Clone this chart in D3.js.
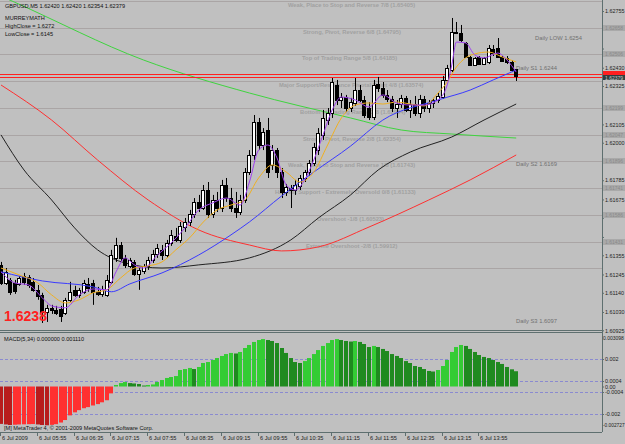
<!DOCTYPE html>
<html>
<head>
<meta charset="utf-8">
<script src="https://cdn.jsdelivr.net/npm/d3@7"></script>
<style>
  body { margin: 0; background: #c0c0c0; }
  svg { display: block; font-family: "Liberation Sans", Arial, sans-serif; }
</style>
</head>
<body>
<svg id="chart" width="625" height="444"></svg>
<script>
// GBPUSD M5 candles, bar 0 = 05:15
const opens = [1.61300,1.61197,1.61214,1.61197,1.61191,1.61237,1.61231,1.61203,1.61157,1.61128,1.61030,1.61054,1.61042,1.61048,1.61025,1.61100,1.61157,1.61128,1.61146,1.61191,1.61197,1.61146,1.61134,1.61128,1.61203,1.61340,1.61414,1.61340,1.61294,1.61317,1.61248,1.61265,1.61294,1.61328,1.61363,1.61386,1.61357,1.61426,1.61466,1.61443,1.61517,1.61546,1.61592,1.61661,1.61626,1.61729,1.61592,1.61672,1.61626,1.61758,1.61683,1.61626,1.61603,1.61672,1.61832,1.61930,1.62119,1.61987,1.62073,1.61873,1.61958,1.61832,1.61718,1.61741,1.61729,1.61752,1.61798,1.61832,1.61884,1.61958,1.62045,1.62130,1.62171,1.62331,1.62245,1.62262,1.62199,1.62228,1.62302,1.62245,1.62199,1.62148,1.62337,1.62314,1.62274,1.62251,1.62199,1.62222,1.62257,1.62188,1.62222,1.62171,1.62251,1.62199,1.62228,1.62245,1.62262,1.62360,1.62417,1.62635,1.62629,1.62572,1.62491,1.62446,1.62491,1.62451,1.62463,1.62537,1.62543,1.62491,1.62486,1.62463,1.62420];
const highs = [1.61317,1.61282,1.61225,1.61214,1.61237,1.61254,1.61242,1.61225,1.61185,1.61140,1.61071,1.61071,1.61065,1.61065,1.61111,1.61203,1.61180,1.61168,1.61214,1.61225,1.61214,1.61174,1.61180,1.61242,1.61386,1.61455,1.61431,1.61357,1.61340,1.61328,1.61288,1.61305,1.61346,1.61386,1.61420,1.61414,1.61443,1.61500,1.61512,1.61546,1.61569,1.61615,1.61683,1.61701,1.61758,1.61775,1.61701,1.61718,1.61787,1.61798,1.61741,1.61718,1.61701,1.61855,1.61958,1.62159,1.62142,1.62084,1.62142,1.61987,1.61970,1.61855,1.61764,1.61758,1.61787,1.61815,1.61844,1.61901,1.61999,1.62084,1.62188,1.62199,1.62371,1.62360,1.62285,1.62274,1.62257,1.62371,1.62331,1.62268,1.62233,1.62360,1.62377,1.62348,1.62302,1.62268,1.62245,1.62274,1.62268,1.62245,1.62268,1.62274,1.62268,1.62245,1.62257,1.62285,1.62383,1.62446,1.62715,1.62692,1.62675,1.62577,1.62497,1.62491,1.62497,1.62491,1.62560,1.62560,1.62600,1.62497,1.62497,1.62474,1.62420];
const lows = [1.61185,1.61185,1.61128,1.61134,1.61180,1.61185,1.61168,1.61146,1.61100,1.60967,1.60973,1.61019,1.61013,1.60973,1.61013,1.61088,1.61117,1.61111,1.61134,1.61146,1.61071,1.61122,1.61117,1.61117,1.61191,1.61317,1.61317,1.61282,1.61282,1.61237,1.61157,1.61248,1.61271,1.61311,1.61340,1.61328,1.61340,1.61409,1.61431,1.61426,1.61489,1.61523,1.61569,1.61603,1.61615,1.61569,1.61569,1.61603,1.61603,1.61661,1.61603,1.61569,1.61586,1.61655,1.61815,1.61901,1.61958,1.61958,1.61798,1.61844,1.61798,1.61683,1.61695,1.61626,1.61701,1.61729,1.61775,1.61810,1.61867,1.61930,1.62016,1.62102,1.62142,1.62216,1.62199,1.62176,1.62176,1.62211,1.62233,1.62142,1.62130,1.62130,1.62291,1.62257,1.62233,1.62176,1.62142,1.62199,1.62176,1.62142,1.62153,1.62142,1.62176,1.62171,1.62199,1.62228,1.62251,1.62348,1.62405,1.62623,1.62577,1.62486,1.62440,1.62440,1.62446,1.62446,1.62451,1.62497,1.62486,1.62463,1.62451,1.62405,1.62354];
const closes = [1.61197,1.61260,1.61146,1.61151,1.61225,1.61203,1.61185,1.61157,1.61122,1.61030,1.61054,1.61042,1.61025,1.61007,1.61100,1.61146,1.61128,1.61157,1.61197,1.61168,1.61146,1.61134,1.61163,1.61214,1.61357,1.61414,1.61340,1.61300,1.61328,1.61248,1.61271,1.61294,1.61328,1.61363,1.61398,1.61357,1.61426,1.61472,1.61443,1.61523,1.61546,1.61592,1.61661,1.61626,1.61729,1.61592,1.61672,1.61626,1.61758,1.61683,1.61626,1.61603,1.61672,1.61832,1.61930,1.62119,1.61987,1.62062,1.61832,1.61958,1.61832,1.61718,1.61746,1.61729,1.61758,1.61798,1.61832,1.61884,1.61976,1.62056,1.62142,1.62171,1.62348,1.62245,1.62262,1.62199,1.62233,1.62302,1.62245,1.62159,1.62148,1.62331,1.62314,1.62274,1.62251,1.62199,1.62222,1.62257,1.62188,1.62222,1.62171,1.62251,1.62199,1.62228,1.62245,1.62268,1.62360,1.62428,1.62635,1.62629,1.62589,1.62491,1.62446,1.62486,1.62451,1.62486,1.62543,1.62514,1.62491,1.62468,1.62463,1.62417,1.62379];

// moving averages: [bar, price]
const maGreen = [[0,1.62840],[3,1.62805],[31,1.62474],[54,1.62285],[76,1.62142],[87,1.62073],[98,1.62050],[112,1.62027]];
const maBlack = [[0,1.62045],[5,1.61844],[11,1.61672],[16,1.61512],[21,1.61386],[27,1.61311],[35,1.61282],[43,1.61300],[54,1.61340],[63,1.61443],[69,1.61569],[76,1.61701],[82,1.61844],[89,1.61947],[98,1.62033],[105,1.62130],[112,1.62222]];
const maRed = [[0,1.62331],[11,1.62130],[21,1.61901],[32,1.61672],[43,1.61500],[54,1.61414],[61,1.61380],[69,1.61403],[80,1.61517],[93,1.61672],[102,1.61787],[112,1.61930]];
const maBlue = [[0,1.61260],[9,1.61208],[20,1.61174],[24,1.61146],[28,1.61191],[35,1.61254],[43,1.61357],[50,1.61472],[54,1.61546],[61,1.61695],[68,1.61832],[76,1.61981],[83,1.62130],[95,1.62245],[102,1.62302],[107,1.62360],[112,1.62417]];
const maPurple = [[0,1.61260],[3,1.61197],[6,1.61185],[9,1.61111],[11,1.61065],[14,1.61054],[17,1.61128],[20,1.61162],[23,1.61157],[25,1.61260],[27,1.61340],[29,1.61300],[31,1.61282],[34,1.61357],[37,1.61426],[40,1.61512],[43,1.61615],[46,1.61655],[49,1.61683],[52,1.61643],[54,1.61775],[56,1.61958],[58,1.61987],[60,1.61913],[62,1.61758],[64,1.61729],[66,1.61787],[68,1.61901],[70,1.62045],[72,1.62188],[74,1.62262],[77,1.62245],[80,1.62205],[83,1.62274],[86,1.62228],[89,1.62216],[92,1.62216],[95,1.62245],[97,1.62331],[98,1.62446],[99,1.62577],[101,1.62572],[103,1.62503],[105,1.62486],[108,1.62514],[110,1.62474],[112,1.62405]];
const maOrange = [[0,1.61282],[4,1.61242],[8,1.61197],[11,1.61128],[14,1.61082],[17,1.61100],[20,1.61140],[23,1.61157],[26,1.61225],[29,1.61282],[32,1.61294],[35,1.61317],[38,1.61386],[41,1.61455],[44,1.61546],[47,1.61615],[50,1.61643],[53,1.61672],[56,1.61798],[59,1.61873],[62,1.61832],[65,1.61775],[68,1.61832],[71,1.61987],[74,1.62142],[77,1.62216],[80,1.62228],[83,1.62222],[86,1.62233],[89,1.62222],[92,1.62211],[95,1.62285],[97,1.62348],[99,1.62434],[101,1.62486],[103,1.62509],[106,1.62520],[109,1.62491],[112,1.62463]];

// MACD(5,34) histogram, one value per bar
const macd = [-0.00272,-0.00276,-0.00280,-0.00278,-0.00276,-0.00275,-0.00274,-0.00273,-0.00276,-0.00280,-0.00282,-0.00279,-0.00274,-0.00262,-0.00244,-0.00210,-0.00188,-0.00172,-0.00158,-0.00150,-0.00138,-0.00128,-0.00115,-0.00100,-0.00050,0.00011,0.00025,0.00033,0.00025,0.00022,0.00018,0.00007,0.00011,0.00015,0.00033,0.00047,0.00062,0.00069,0.00076,0.00120,0.00127,0.00135,0.00127,0.00142,0.00171,0.00178,0.00193,0.00207,0.00222,0.00236,0.00244,0.00240,0.00251,0.00280,0.00302,0.00324,0.00338,0.00345,0.00338,0.00331,0.00316,0.00280,0.00244,0.00207,0.00178,0.00171,0.00185,0.00207,0.00236,0.00265,0.00295,0.00316,0.00338,0.00345,0.00338,0.00331,0.00327,0.00331,0.00324,0.00309,0.00287,0.00295,0.00287,0.00273,0.00258,0.00236,0.00222,0.00207,0.00185,0.00171,0.00149,0.00142,0.00127,0.00113,0.00109,0.00120,0.00149,0.00193,0.00251,0.00287,0.00302,0.00295,0.00273,0.00251,0.00229,0.00215,0.00207,0.00193,0.00178,0.00164,0.00142,0.00125,0.00111];

// Murrey math levels and their captions
const murreyLevels = [1.62812,1.62658,1.62506,1.62354,1.62199,1.62047,1.61896,1.61741,1.61586,1.61431,1.61282];
const murreyNames = ["Weak, Place to Stop and Reverse  7/8  (1.65405)","Strong, Pivot, Reverse  6/8  (1.64795)","Top of Trading Range  5/8  (1.64185)","Major Support/Resistance Pivotal Point  4/8  (1.63574)","Bottom of Trading Range  3/8  (1.62964)","Strong, Pivot, Reverse  2/8  (1.62354)","Weak, Place to Stop and Reverse  1/8  (1.61743)","Hardest Support - Extremely Oversold  0/8  (1.61133)","Overshoot  -1/8  (1.60523)","Extreme Overshoot  -2/8  (1.59912)",""];
const murreyLabelX = [288,303,302,279,300,303,288,275,317,306,0];
// levels whose price box shows on the axis
const boxLevels = [1.62658,1.62506,1.62199,1.62047,1.61896,1.61741,1.61586,1.61431];

const dailyNames = ["Daily LOW 1.6254","Daily S1 1.6244","Daily S2 1.6169","Daily S3 1.6097"];
const dailyPrices = [1.62600,1.62430,1.61880,1.60980];
const dailyX = [535,516,516,516];

const priceTicks = [1.62755,1.62650,1.62540,1.62430,1.62325,1.62215,1.62105,1.62000,1.61890,1.61785,1.61675,1.61570,1.61460,1.61355,1.61245,1.61140,1.61030,1.60925];
const macdTicks = [0.002,0.0004,0,-0.0004,-0.002];
const macdTickLabels = ["0.002","0.0004","0.00","-0.0004","-0.002"];
const timeBars = [0,8,16,24,32,40,48,56,64,72,80,88,96,104];
const timeLabels = ["6 Jul 2009","6 Jul 05:55","6 Jul 06:35","6 Jul 07:15","6 Jul 07:55","6 Jul 08:35","6 Jul 09:15","6 Jul 09:55","6 Jul 10:35","6 Jul 11:15","6 Jul 11:55","6 Jul 12:35","6 Jul 13:15","6 Jul 13:55"];
const bidLines = [1.62396,1.62376];

const svg = d3.select("#chart");
const axisRight = 602;
const small = 5.4;

const x = d3.scaleLinear().domain([0, 112]).range([1, 516.2]);
const y = d3.scaleLinear().domain([1.61030, 1.62755]).range([312, 11]);
const ym = d3.scaleLinear().domain([-0.002, 0.002]).range([414, 359]);

svg.append("rect").attr("width", 625).attr("height", 444).attr("fill", "#c0c0c0");

const defs = svg.append("defs");
defs.append("clipPath").attr("id", "mainClip")
  .append("rect").attr("x", 0).attr("y", 0).attr("width", axisRight).attr("height", 330);
defs.append("clipPath").attr("id", "macdClip")
  .append("rect").attr("x", 0).attr("y", 333).attr("width", axisRight).attr("height", 99);

const main = svg.append("g").attr("clip-path", "url(#mainClip)");

// murrey lines
main.selectAll(".murrey")
  .data(murreyLevels)
  .enter().append("line")
  .attr("x1", 0).attr("x2", axisRight)
  .attr("y1", d => Math.round(y(d)) + 0.5).attr("y2", d => Math.round(y(d)) + 0.5)
  .attr("stroke", "#aaa5a5").attr("stroke-width", 1);

main.selectAll(".mlabel")
  .data(murreyLevels)
  .enter().append("text")
  .attr("x", (d, i) => murreyLabelX[i])
  .attr("y", d => y(d) + 6)
  .attr("font-size", 5.8).attr("font-weight", "bold")
  .attr("fill", "#a0a0a0")
  .text((d, i) => murreyNames[i]);

main.selectAll(".dlabel")
  .data(dailyPrices)
  .enter().append("text")
  .attr("x", (d, i) => dailyX[i])
  .attr("y", d => y(d) + 2)
  .attr("font-size", 5.8)
  .attr("fill", "#707070")
  .text((d, i) => dailyNames[i]);

// long moving averages
const line = d3.line().x(d => x(d[0])).y(d => y(d[1])).curve(d3.curveMonotoneX);
[[maGreen, "#3fd43f"], [maBlack, "#222222"], [maRed, "#ff3030"]].forEach(([pts, col]) => {
  main.append("path").attr("d", line(pts)).attr("fill", "none").attr("stroke", col).attr("stroke-width", 1);
});

// bid lines
main.selectAll(".bid")
  .data(bidLines)
  .enter().append("line")
  .attr("x1", 0).attr("x2", axisRight)
  .attr("y1", d => Math.round(y(d)) + 0.5).attr("y2", d => Math.round(y(d)) + 0.5)
  .attr("stroke", "#ff2020");

// candles
const bars = d3.range(closes.length);
main.selectAll(".wick")
  .data(bars)
  .enter().append("line")
  .attr("x1", i => Math.round(x(i)) + 0.5).attr("x2", i => Math.round(x(i)) + 0.5)
  .attr("y1", i => y(highs[i])).attr("y2", i => y(lows[i]))
  .attr("stroke", "#000");

main.selectAll(".body")
  .data(bars)
  .enter().append("rect")
  .attr("x", i => Math.round(x(i)) - 1.5)
  .attr("y", i => Math.round(y(Math.max(opens[i], closes[i]))) + 0.5)
  .attr("width", 3)
  .attr("height", i => Math.max(1, Math.round(Math.abs(y(opens[i]) - y(closes[i])))))
  .attr("fill", i => closes[i] >= opens[i] ? "#fff" : "#000")
  .attr("stroke", "#000");

// fast moving averages
[[maBlue, "#3a3aff"], [maOrange, "#f0b020"], [maPurple, "#a040f0"]].forEach(([pts, col]) => {
  main.append("path").attr("d", line(pts)).attr("fill", "none").attr("stroke", col).attr("stroke-width", 1);
});

// header text
const header = ["GBPUSD,M5  1.62420 1.62420 1.62354 1.62379", "MURREYMATH", "HighClose = 1.6272", "LowClose = 1.6145"];
const headerY = [8, 20, 28, 36];
svg.selectAll(".head")
  .data(header)
  .enter().append("text")
  .attr("x", 5).attr("y", (d, i) => headerY[i])
  .attr("font-size", 5.6).attr("fill", "#111")
  .text(d => d);

svg.append("text")
  .attr("x", 4).attr("y", 321)
  .attr("font-size", 14).attr("font-weight", "bold")
  .attr("fill", "#ff2020")
  .attr("textLength", 43).attr("lengthAdjust", "spacingAndGlyphs")
  .text(closes[closes.length - 1].toFixed(4));

// MACD panel
const sub = svg.append("g").attr("clip-path", "url(#macdClip)");
sub.selectAll(".lvl")
  .data([0.002, 0.0004, -0.0004, -0.002])
  .enter().append("line")
  .attr("x1", 0).attr("x2", axisRight)
  .attr("y1", d => Math.round(ym(d)) + 0.5).attr("y2", d => Math.round(ym(d)) + 0.5)
  .attr("stroke", "#8a8ad0").attr("stroke-dasharray", "3,2");

sub.selectAll(".hist")
  .data(bars)
  .enter().append("rect")
  .attr("x", i => Math.round(x(i)) - 2)
  .attr("width", 4)
  .attr("y", i => ym(Math.max(0, macd[i])))
  .attr("height", i => Math.abs(ym(macd[i]) - ym(0)))
  .attr("fill", i => {
    const prev = i > 0 ? macd[i - 1] : macd[i];
    if (macd[i] >= 0) return macd[i] >= prev ? "#34cc34" : "#1f8a1f";
    return macd[i] <= prev ? "#b81c1c" : "#ff3030";
  });

svg.append("text").attr("x", 4).attr("y", 341).attr("font-size", 5.6).attr("fill", "#111")
  .text("MACD(5,34) 0.000000 " + macd[macd.length - 1].toFixed(6));
svg.append("text").attr("x", 4).attr("y", 430).attr("font-size", 5.6).attr("fill", "#111")
  .text("[M] MetaTrader 4, © 2001-2009 MetaQuotes Software Corp.");

// frame lines
const frame = "#5e6f6f";
svg.append("line").attr("x1", axisRight + 0.5).attr("x2", axisRight + 0.5).attr("y1", 0).attr("y2", 432).attr("stroke", frame);
svg.append("line").attr("x1", 0).attr("x2", axisRight).attr("y1", 330.5).attr("y2", 330.5).attr("stroke", frame);
svg.append("line").attr("x1", 0).attr("x2", axisRight).attr("y1", 332.5).attr("y2", 332.5).attr("stroke", frame);
svg.append("line").attr("x1", 0).attr("x2", axisRight).attr("y1", 432.5).attr("y2", 432.5).attr("stroke", frame);

// price boxes sit on the axis and hide the tick labels under them
const hidden = v => boxLevels.some(b => Math.abs(y(b) - y(v)) < 6.5) || Math.abs(y(bidLines[1]) - y(v)) < 7;

const yAxis = d3.axisRight(y).tickValues(priceTicks).tickSize(2)
  .tickFormat(v => hidden(v) ? "" : d3.format(".5f")(v));
const ya = svg.append("g").attr("transform", `translate(${axisRight},0)`).call(yAxis);
ya.select(".domain").remove();
ya.selectAll("line").attr("stroke", frame);
ya.selectAll("text").attr("font-size", small).attr("fill", "#222").attr("x", 3).attr("font-family", "Liberation Sans, Arial");

const boxes = svg.append("g");
boxLevels.forEach(v => {
  boxes.append("rect").attr("x", axisRight + 1).attr("y", Math.round(y(v)) - 3)
    .attr("width", 22).attr("height", 6).attr("fill", "#a9a9a9");
  boxes.append("text").attr("x", axisRight + 3).attr("y", Math.round(y(v)) + 2)
    .attr("font-size", 5).attr("fill", "#8a8a8a").text(d3.format(".5f")(v));
});
// bid boxes
boxes.append("rect").attr("x", axisRight + 1).attr("y", Math.round(y(bidLines[0])) - 3)
  .attr("width", 22).attr("height", 4).attr("fill", "#ff2020");
boxes.append("rect").attr("x", axisRight + 1).attr("y", Math.round(y(bidLines[1])) - 2)
  .attr("width", 22).attr("height", 5).attr("fill", "#2f3f3f");
boxes.append("text").attr("x", axisRight + 3).attr("y", Math.round(y(bidLines[1])) + 2.5)
  .attr("font-size", 5).attr("fill", "#c8c8c8").text(d3.format(".5f")(closes[closes.length - 1]));

const mAxis = d3.axisRight(ym).tickValues(macdTicks).tickSize(2).tickFormat((d, i) => macdTickLabels[i]);
const mg = svg.append("g").attr("transform", `translate(${axisRight},0)`).call(mAxis);
mg.select(".domain").remove();
mg.selectAll("line").attr("stroke", frame);
mg.selectAll("text").attr("font-size", small).attr("fill", "#222").attr("x", 3).attr("font-family", "Liberation Sans, Arial");
svg.append("text").attr("x", 603).attr("y", 340).attr("font-size", 5).attr("fill", "#222").text("0.003098");
svg.append("text").attr("x", 603).attr("y", 427).attr("font-size", 4.8).attr("fill", "#222").text("-0.002727");

// time axis
const tg = svg.append("g");
tg.selectAll(".tt")
  .data(timeBars)
  .enter().append("line")
  .attr("x1", d => Math.round(x(d)) - 0.5).attr("x2", d => Math.round(x(d)) - 0.5)
  .attr("y1", 432).attr("y2", 436)
  .attr("stroke", frame);
tg.selectAll(".tl")
  .data(timeBars)
  .enter().append("text")
  .attr("x", d => Math.round(x(d)) + 1)
  .attr("y", 440)
  .attr("font-size", 5.6).attr("fill", "#222")
  .text((d, i) => timeLabels[i]);
</script>
</body>
</html>
